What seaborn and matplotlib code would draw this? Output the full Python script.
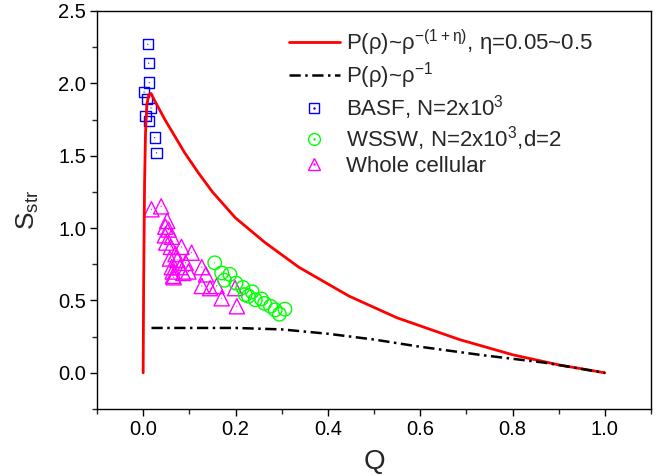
import numpy as np
import pandas as pd
import matplotlib
matplotlib.use("Agg")
import matplotlib.pyplot as plt
import seaborn as sns
from matplotlib.lines import Line2D
from matplotlib.ticker import MultipleLocator

# ---- data ----
red_q = [0.0, 0.001, 0.003, 0.005, 0.008, 0.012, 0.017, 0.025, 0.047, 0.09, 0.12, 0.15,
         0.20, 0.264, 0.337, 0.446, 0.55, 0.685, 0.80, 0.90, 1.0]
red_s = [0.0, 0.6, 1.3, 1.65, 1.85, 1.92, 1.93, 1.88, 1.75, 1.52, 1.38, 1.25,
         1.07, 0.90, 0.73, 0.53, 0.38, 0.23, 0.125, 0.055, 0.0]

black_q = [0.018, 0.1, 0.2, 0.3, 0.4, 0.5, 0.6, 0.73, 0.87, 1.0]
black_s = [0.31, 0.31, 0.31, 0.30, 0.27, 0.23, 0.18, 0.124, 0.07, 0.0]

basf_q = [0.010, 0.012, 0.013, 0.002, 0.009, 0.017, 0.005, 0.013, 0.025, 0.029]
basf_s = [2.27, 2.14, 2.005, 1.94, 1.89, 1.83, 1.775, 1.74, 1.625, 1.52]

wssw_q = [0.155, 0.170, 0.188, 0.176, 0.201, 0.216, 0.221, 0.236, 0.228, 0.243,
          0.256, 0.263, 0.276, 0.286, 0.295, 0.307]
wssw_s = [0.76, 0.69, 0.68, 0.64, 0.62, 0.59, 0.54, 0.56, 0.53, 0.505,
          0.51, 0.48, 0.46, 0.435, 0.405, 0.44]

cell_q = [0.018, 0.039, 0.052, 0.048, 0.055, 0.047, 0.062, 0.060, 0.083, 0.105,
          0.058, 0.074, 0.062, 0.080, 0.064, 0.065, 0.066, 0.098, 0.092, 0.087,
          0.127, 0.136, 0.127, 0.145, 0.159, 0.199, 0.170, 0.203, 0.050, 0.070]
cell_s = [1.13, 1.15, 1.05, 1.01, 0.99, 0.95, 0.94, 0.87, 0.87, 0.83,
          0.79, 0.78, 0.73, 0.73, 0.70, 0.67, 0.66, 0.70, 0.76, 0.69,
          0.73, 0.68, 0.60, 0.585, 0.60, 0.585, 0.515, 0.46, 0.90, 0.82]

labels = [r"P(ρ)~ρ$^{-(1+η)}$, η=0.05~0.5", r"P(ρ)~ρ$^{-1}$",
          r"BASF, N=2x10$^{3}$", r"WSSW, N=2x10$^{3}$,d=2", "Whole cellular"]

RED, BLUE, GREEN, MAG = "#ff0000", "#0000ff", "#00ff00", "#ff00ff"
DASH = [4.5, 1.8, 1.0, 1.8]

# ---- style ----
sns.set_style("ticks")
plt.rcParams["font.family"] = ["Liberation Sans", "DejaVu Sans"]
plt.rcParams["mathtext.default"] = "regular"

fig = plt.figure(figsize=(6.58, 4.76), dpi=100)
ax = fig.add_axes([97 / 658, 1 - 409 / 476, (651 - 97) / 658, (409 - 11) / 476])

red_df = pd.DataFrame({"Q": red_q, "S": red_s})
black_df = pd.DataFrame({"Q": black_q, "S": black_s})
basf_df = pd.DataFrame({"Q": basf_q, "S": basf_s})
wssw_df = pd.DataFrame({"Q": wssw_q, "S": wssw_s})
cell_df = pd.DataFrame({"Q": cell_q, "S": cell_s})

sns.lineplot(data=red_df, x="Q", y="S", ax=ax, color=RED, lw=2.0,
             sort=False, estimator=None, legend=False)
sns.lineplot(data=black_df, x="Q", y="S", ax=ax, color="black", lw=1.8,
             sort=False, estimator=None, legend=False)
ax.lines[-1].set_dashes(DASH)

mk = dict(ax=ax, legend=False, linewidth=1.0)
sns.scatterplot(data=cell_df, x="Q", y="S", marker="^", s=120,
                facecolor="none", edgecolor=MAG, **mk)
sns.scatterplot(data=cell_df, x="Q", y="S", marker=".", s=3,
                color=MAG, edgecolor="none", ax=ax, legend=False)
sns.scatterplot(data=wssw_df, x="Q", y="S", marker="o", s=95,
                facecolor="none", edgecolor=GREEN, **mk)
sns.scatterplot(data=wssw_df, x="Q", y="S", marker=".", s=3,
                color=GREEN, edgecolor="none", ax=ax, legend=False)
sns.scatterplot(data=basf_df, x="Q", y="S", marker="s", s=55,
                facecolor="none", edgecolor=BLUE, **mk)
sns.scatterplot(data=basf_df, x="Q", y="S", marker=".", s=3,
                color=BLUE, edgecolor="none", ax=ax, legend=False)

ax.set_xlim(-0.1, 1.1)
ax.set_ylim(-0.25, 2.5)
ax.xaxis.set_major_locator(MultipleLocator(0.2))
ax.xaxis.set_minor_locator(MultipleLocator(0.1))
ax.yaxis.set_major_locator(MultipleLocator(0.5))
ax.yaxis.set_minor_locator(MultipleLocator(0.25))
ax.set_xticks([0.0, 0.2, 0.4, 0.6, 0.8, 1.0])
ax.set_yticks([0.0, 0.5, 1.0, 1.5, 2.0, 2.5])
ax.tick_params(axis="both", which="major", direction="out", length=5, width=1,
               labelsize=14.5, colors="black", pad=3)
ax.tick_params(axis="both", which="minor", direction="out", length=3.5, width=1)
for sp in ax.spines.values():
    sp.set_visible(True)
    sp.set_linewidth(1.0)
    sp.set_color("black")

ax.set_xlabel("Q", fontsize=20, labelpad=7)
ax.set_ylabel(r"S$_{str}$", fontsize=19, labelpad=12)

# legend
h_red = Line2D([], [], color=RED, lw=2.0)
h_blk = Line2D([], [], color="black", lw=1.8, dashes=DASH)
def mk_handle(m, c, ms):
    return (Line2D([], [], ls="", marker=m, mfc="none", mec=c, ms=ms, mew=1.0),
            Line2D([], [], ls="", marker=".", color=c, ms=1.5))
h_basf = mk_handle("s", BLUE, 7)
h_wssw = mk_handle("o", GREEN, 8.5)
h_cell = mk_handle("^", MAG, 9)
ax.legend([h_red, h_blk, h_basf, h_wssw, h_cell], labels,
          loc="upper left", bbox_to_anchor=(0.33, 0.98), frameon=False,
          fontsize=16, handlelength=2.3, handletextpad=0.3, labelspacing=0.1,
          borderaxespad=0.0)

fig.savefig("out.png", dpi=100)
